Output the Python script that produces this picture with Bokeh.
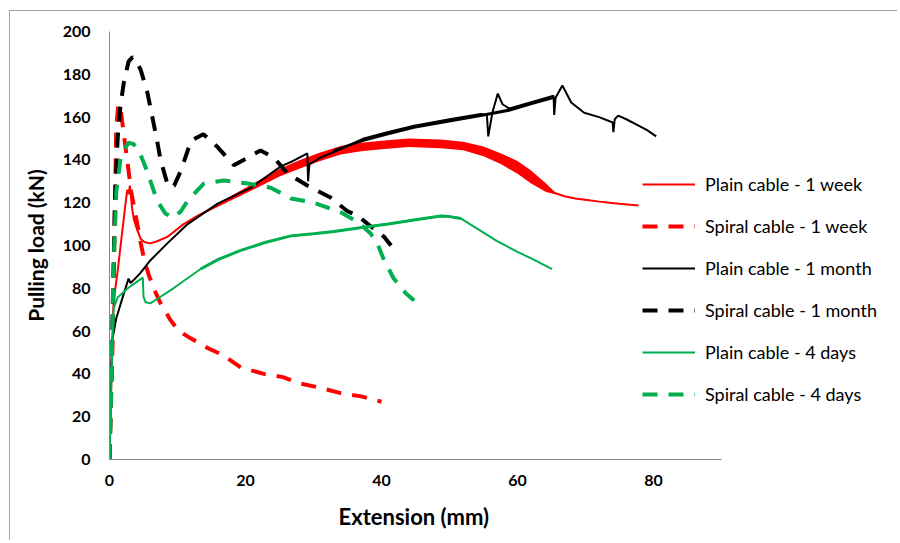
from bokeh.plotting import figure
from bokeh.models import Range1d, FixedTicker, Legend, LegendItem, Title
from bokeh.embed import file_html
from bokeh.resources import INLINE

# ---- data ----
# Plain cable - 1 week (red solid)
plain_week_x = [0, 0.3, 0.5, 0.6, 1.2, 2.0, 2.6, 2.8, 3.0, 3.3, 3.6, 4.0, 4.6, 5.2, 6.0, 7.0, 8.5, 10.9, 13, 14.9, 17,
                19.3, 22, 25, 28, 31, 34, 37, 40, 44, 48.7, 52, 55, 57.6, 60, 62, 64.2, 65.5, 66.9, 68.5, 70.8, 72,
                73.5, 75, 76.6, 77.8]
plain_week_y = [0, 40, 65, 74, 88, 110, 126, 124, 128, 118, 112, 108, 103, 101.5, 101, 102, 104, 110, 114, 117, 120.5,
                124.5, 129, 134, 138, 141.5, 144.5, 146, 147, 148, 147.5, 146.5, 144, 140.5, 136.5, 132, 127, 124.5,
                123, 122, 121, 120.5, 120, 119.5, 119, 118.7]
# noisy band of the plain 1 week curve
plain_week_band_x = [13, 16, 19.3, 22, 25, 28, 31, 34, 37, 40, 44, 48.7, 52, 55, 57.6, 60, 62, 64.2, 65.5]
plain_week_band_lo = [113.7, 118.2, 123.3, 127.5, 132.3, 136, 139.5, 142.5, 144, 145, 146, 145.5, 144.5, 141.7, 138,
                      133.5, 129, 125, 124]
plain_week_band_hi = [114.3, 119.8, 125.7, 130.5, 135.7, 140, 143.5, 146.5, 148, 149, 150, 149.5, 148.5, 146.3, 143,
                      139.5, 135, 129, 125]

# Spiral cable - 1 week (red dashed)
spiral_week_x = [0, 0.5, 0.8, 1.0, 1.3, 1.7, 2.1, 2.6, 3.2, 3.8, 4.6, 5.2, 5.8, 6.5, 7.5, 9.0, 10.2, 12, 14.5, 16.8,
                 19.3, 22.7, 25.5, 28, 31, 34, 37, 40]
spiral_week_y = [0, 60, 120, 155, 166, 162, 152, 140, 125, 115, 101, 92, 86, 80, 73, 65, 60, 56.5, 52, 48.6, 43, 40,
                 38.5, 35.5, 33.5, 31, 29.5, 27]

# Plain cable - 1 month (black solid)
plain_month_x = [0, 0.2, 0.4, 1.0, 2.1, 2.8, 3.1, 3.6, 4.5, 6, 8.5, 11.5, 15.9, 20.8, 25.2, 27, 29.1, 29.2, 29.4, 31,
                 34, 37.4, 41, 44.8, 50, 54.6, 55.5, 55.7, 56.3, 57.1, 57.8, 58.8, 62, 65.3, 65.4, 65.6, 66.6, 67.9,
                 69.8, 72, 74, 74.1, 74.3, 74.8, 76, 77.8, 79, 80.4]
plain_month_y = [0, 40, 55.6, 66, 77.5, 84.5, 82.5, 84, 87, 93, 101, 110, 119.6, 127, 137, 139.5, 143, 130, 138, 141,
                 145, 150, 153, 156, 159, 161.5, 161, 151, 162, 171, 166, 164, 167, 170, 161, 169, 174.8, 166.8, 162,
                 160, 157.5, 153, 159, 160.7, 159, 156, 154, 151]
# noisy band of the plain 1 month curve
plain_month_band_x = [33, 37.4, 41, 44.8, 50, 54.6, 58.8, 62, 65.3]
plain_month_band_lo = [144, 148.5, 151.5, 154.5, 157.5, 160, 162.5, 165.5, 168.5]
plain_month_band_hi = [145, 150, 153, 156, 159, 161.5, 164, 167, 170]

# Spiral cable - 1 month (black dashed)
spiral_month_x = [0, 0.4, 0.8, 1.2, 1.6, 2.1, 2.8, 3.4, 4.0, 4.6, 5.6, 6.3, 7.0, 7.5, 8.5, 9.0, 9.5, 10.5, 12, 13.8,
                  15.9, 18.3, 20.3, 22.2, 24.2, 26.2, 29.1, 32.5, 35, 36.5, 38, 40.4, 41.4]
spiral_month_y = [0, 60, 120, 150, 165, 176, 186, 188, 186, 182, 171, 160, 149, 140, 129, 127, 128, 135, 149, 152,
                  146, 137.5, 141, 144.4, 141, 133.6, 128, 122.4, 116, 114, 110, 104, 100]

# Plain cable - 4 days (green solid)
plain_days_x = [0, 0.3, 0.6, 1.2, 2.7, 4.0, 4.9, 5.0, 5.3, 6.0, 7.0, 9.4, 13.4, 16, 19.3, 23, 26.7, 30, 33, 37.4, 41,
                45, 48.7, 50, 51.7, 54, 57, 60, 62, 65.1]
plain_days_y = [0, 40, 70.5, 75.7, 80, 83, 85, 76, 73.5, 73, 75, 80, 89, 93.5, 97.7, 101.5, 104.5, 105.5, 106.5,
                108.5, 110, 112, 113.8, 113.5, 112.6, 108, 102, 97, 94, 89]

# Spiral cable - 4 days (green dashed)
spiral_days_x = [0, 0.3, 0.6, 1.0, 1.6, 2.2, 2.8, 3.5, 4.3, 5.0, 5.6, 7.0, 8.2, 9.4, 10.5, 11.5, 13.9, 16.8, 20.3,
                 23.7, 26.7, 30, 34, 36.5, 38.4, 39.5, 40.4, 41.8, 43.6, 44.8]
spiral_days_y = [0, 40, 90, 125, 140, 145, 148, 147.5, 144.4, 139, 134, 121, 115, 113, 116, 121, 129, 130.4, 129,
                 127, 122, 120, 115.5, 111, 105.6, 100, 93, 84.6, 77.6, 74.3]

x_ticks = [0, 20, 40, 60, 80]
y_ticks = [0, 20, 40, 60, 80, 100, 120, 140, 160, 180, 200]
x_axis_end = 90
x_title = "Extension (mm)"
y_title = "Pulling load (kN)"
labels = ["Plain cable - 1 week", "Spiral cable - 1 week", "Plain cable - 1 month",
          "Spiral cable - 1 month", "Plain cable - 4 days", "Spiral cable - 4 days"]

RED = "#FF0000"
BLACK = "#000000"
GREEN = "#00B050"
AXIS = "#868686"
FONT = "Lato"

# layout (page pixels): canvas origin at (10, 11); frame x 0..90 spans 109..721
W, H = 888, 530
FRAME_L, FRAME_T, FRAME_B = 109 - 10, 31 - 11, 459 - 11
FRAME_R = 888  # canvas px, frame extends past the axis end so the legend is not clipped
px_per_unit = (721 - 109) / x_axis_end
x_end = (FRAME_R - FRAME_L) / px_per_unit

p = figure(width=W, height=H, output_backend="svg", toolbar_location=None,
           x_range=Range1d(0, x_end), y_range=Range1d(0, 200),
           min_border_left=FRAME_L, min_border_right=W - FRAME_R, min_border_top=FRAME_T,
           min_border_bottom=H - FRAME_B)
p.styles = {"margin-left": "9px", "margin-top": "10px",
            "border-left": "1px solid #a6a6a6", "border-top": "1px solid #a6a6a6"}
p.outline_line_color = None
p.grid.visible = False
p.background_fill_color = "white"
p.border_fill_color = "white"

DASH = "15 11"

# red
r1 = p.line(plain_week_x, plain_week_y, line_color=RED, line_width=2)
p.varea(x=plain_week_band_x, y1=plain_week_band_lo, y2=plain_week_band_hi, fill_color=RED)
r2 = p.line(spiral_week_x, spiral_week_y, line_color=RED, line_width=4, line_dash=DASH)
# black
r3 = p.line(plain_month_x, plain_month_y, line_color=BLACK, line_width=2)
p.varea(x=plain_month_band_x, y1=plain_month_band_lo, y2=plain_month_band_hi, fill_color=BLACK)
r4 = p.line(spiral_month_x, spiral_month_y, line_color=BLACK, line_width=4, line_dash=DASH)
# green
r5 = p.line(plain_days_x, plain_days_y, line_color=GREEN, line_width=2)
p.line(plain_days_x[12:25], plain_days_y[12:25], line_color=GREEN, line_width=3)
r6 = p.line(spiral_days_x, spiral_days_y, line_color=GREEN, line_width=4, line_dash=DASH)

for ax in (p.xaxis[0], p.yaxis[0]):
    ax.axis_line_color = AXIS
    ax.axis_line_width = 1
    ax.major_tick_line_color = None
    ax.minor_tick_line_color = None
    ax.major_tick_out = 0
    ax.major_tick_in = 0
    ax.major_label_text_font = FONT
    ax.major_label_text_font_style = "bold"
    ax.major_label_text_font_size = "16px"
    ax.major_label_text_color = "black"
    ax.axis_label_text_font = FONT
    ax.axis_label_text_font_style = "bold"
    ax.axis_label_text_color = "black"

p.xaxis[0].bounds = (0, x_axis_end)
p.xaxis[0].ticker = FixedTicker(ticks=x_ticks)
p.yaxis[0].ticker = FixedTicker(ticks=y_ticks)
p.yaxis[0].axis_label = y_title
p.yaxis[0].axis_label_text_font_size = "21px"
p.xaxis[0].major_label_standoff = 15
p.yaxis[0].major_label_standoff = 19
p.yaxis[0].axis_label_standoff = 12

# x-axis title centred under the axis line (0..90), not under the wider frame
xt = Title(text=x_title, align="left", offset=(415 - 109) - 77, standoff=24,
           text_font=FONT, text_font_style="bold", text_font_size="22px", text_color="black")
p.add_layout(xt, "below")

legend = Legend(items=[LegendItem(label=lab, renderers=[r]) for lab, r in zip(labels, [r1, r2, r3, r4, r5, r6])],
                location=(642 - 109, 459 - 405), orientation="vertical",
                glyph_width=53, glyph_height=22, label_height=22, label_standoff=10, spacing=20,
                padding=0, margin=0, border_line_color=None, background_fill_alpha=0,
                label_text_font=FONT, label_text_font_size="18px", label_text_color="black")
p.add_layout(legend, "center")

open("out.html", "w").write(file_html(p, INLINE))
